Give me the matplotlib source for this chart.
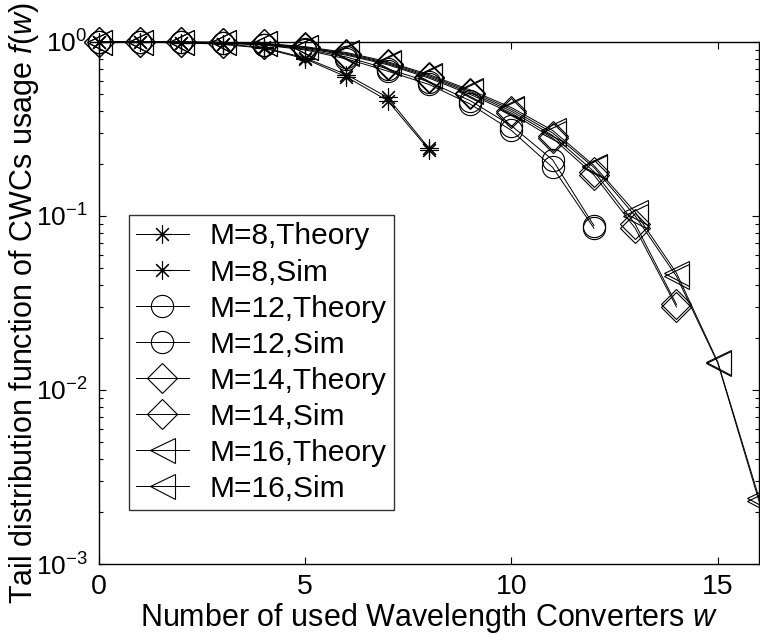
import matplotlib
matplotlib.use("Agg")
import matplotlib.pyplot as plt
import matplotlib.ticker as mticker

plt.rcParams['font.family'] = ['Liberation Sans', 'DejaVu Sans']
plt.rcParams['mathtext.fontset'] = 'custom'
plt.rcParams['mathtext.rm'] = 'Liberation Sans'
plt.rcParams['mathtext.it'] = 'Liberation Sans:italic'

# ---- data ----
x_m8 = list(range(0, 9))
m8_theory = [1.0, 0.995, 0.99, 0.97, 0.92, 0.80, 0.63, 0.46, 0.24]
m8_sim    = [1.0, 0.996, 0.99, 0.975, 0.93, 0.81, 0.65, 0.48, 0.245]

x_m12 = list(range(0, 13))
m12_theory = [1.0, 0.998, 0.995, 0.985, 0.96, 0.90, 0.80, 0.68, 0.57, 0.44, 0.31, 0.19, 0.085]
m12_sim    = [1.0, 0.998, 0.995, 0.987, 0.965, 0.91, 0.82, 0.70, 0.59, 0.46, 0.33, 0.21, 0.088]

x_m14 = list(range(0, 15))
m14_theory = [1.0, 1.0, 0.998, 0.99, 0.97, 0.92, 0.84, 0.74, 0.62, 0.50, 0.39, 0.28, 0.172, 0.085, 0.030]
m14_sim    = [1.0, 1.0, 0.998, 0.992, 0.975, 0.93, 0.85, 0.75, 0.63, 0.51, 0.40, 0.29, 0.180, 0.090, 0.031]

x_m16 = list(range(0, 17))
m16_theory = [1.0, 1.0, 0.999, 0.995, 0.98, 0.93, 0.86, 0.76, 0.64, 0.52, 0.41, 0.30, 0.19, 0.10, 0.045, 0.0143, 0.0023]
m16_sim    = [1.0, 1.0, 0.999, 0.996, 0.982, 0.94, 0.87, 0.77, 0.65, 0.53, 0.42, 0.31, 0.195, 0.105, 0.047, 0.0145, 0.0024]

labels = ['M=8,Theory', 'M=8,Sim', 'M=12,Theory', 'M=12,Sim',
          'M=14,Theory', 'M=14,Sim', 'M=16,Theory', 'M=16,Sim']
xticks = [0, 5, 10, 15]

fig = plt.figure(figsize=(7.6, 6.34), dpi=100)
ax = fig.add_axes([0.130, 0.1104, 0.8687, 0.8234])

star = (8, 2, 0)
series = [
    (x_m8, m8_theory, star, 13),
    (x_m8, m8_sim, star, 13),
    (x_m12, m12_theory, 'o', 16),
    (x_m12, m12_sim, 'o', 16),
    (x_m14, m14_theory, 'D', 15),
    (x_m14, m14_sim, 'D', 15),
    (x_m16, m16_theory, '<', 18),
    (x_m16, m16_sim, '<', 18),
]
for (xs, ys, mk, ms), lab in zip(series, labels):
    ax.plot(xs, ys, color='black', linewidth=0.7, marker=mk, markersize=ms,
            markerfacecolor='none', markeredgecolor='black', markeredgewidth=0.8,
            label=lab, clip_on=False)

ax.set_yscale('log')
ax.set_xlim(0, 16)
ax.set_ylim(1e-3, 1)
ax.set_xticks(xticks)
ax.set_xticklabels([str(t) for t in xticks])
ax.xaxis.set_minor_locator(mticker.NullLocator())

for s in ax.spines.values():
    s.set_linewidth(1.0)

ax.tick_params(axis='both', which='both', direction='in', top=True, right=True, width=0.8)
ax.tick_params(axis='both', which='major', length=5)
ax.tick_params(axis='y', which='minor', length=3)
ax.tick_params(axis='x', which='major', pad=7, labelsize=20.5)
ax.tick_params(axis='y', which='major', pad=8, labelsize=19)

ax.set_xlabel('Number of used Wavelength Converters $\\mathit{w}$', fontsize=22, labelpad=1)
ax.set_ylabel('Tail distribution function of CWCs usage $\\mathit{f(w)}$', fontsize=22)
ax.yaxis.set_label_coords(-0.088, 0.5)

leg = ax.legend(loc='upper left', bbox_to_anchor=(0.0455, 0.6686), borderaxespad=0,
                fontsize=21.5, frameon=True, fancybox=False, edgecolor='black',
                handlelength=1.75, handletextpad=0.7, labelspacing=0.27,
                borderpad=0.25)
leg.get_frame().set_linewidth(1.0)

fig.savefig('out.png', dpi=100)
